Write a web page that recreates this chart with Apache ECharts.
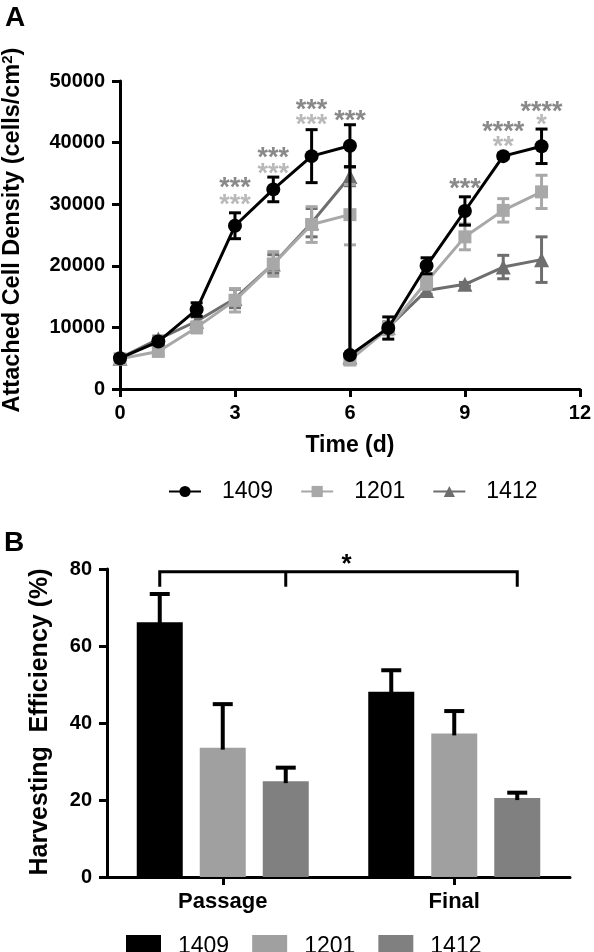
<!DOCTYPE html>
<html>
<head>
<meta charset="utf-8">
<script src="https://cdn.jsdelivr.net/npm/echarts@6/dist/echarts.min.js"></script>
<style>
html,body{margin:0;padding:0;background:#fff;}
#a{position:absolute;left:0;top:0;width:594px;height:510px;}
#b{position:absolute;left:0;top:510px;width:594px;height:442px;}
</style>
</head>
<body>
<div id="a"></div>
<div id="b"></div>
<script>
// ---------- Panel A data ----------
const days = [0, 1, 2, 3, 4, 5, 6, 6, 7, 8, 9, 10, 11];
const mean1409 = [5000, 7700, 12900, 26500, 32400, 37800, 39500, 5500, 9900, 20000, 28900, 37800, 39400];
const sd1409   = [400, 500, 1100, 2100, 2000, 4300, 3400, 300, 1800, 1300, 2300, 400, 2800];
const mean1201 = [4900, 6100, 10000, 14400, 20300, 26700, 28300, 4700, 9800, 17400, 24700, 29000, 32000];
const sd1201   = [400, 600, 900, 1900, 2000, 2900, 4900, 300, 1000, 1200, 2100, 1900, 2700];
const mean1412 = [5000, 8100, 11000, 14700, 20300, 27000, 34500, 5200, 10000, 16000, 17000, 19800, 21000];
const sd1412   = [300, 500, 700, 1500, 1500, 2300, 1500, 300, 900, 600, 300, 1900, 3700];
const strains = ['1409', '1201', '1412'];
const timeTicks = [0, 3, 6, 9, 12];
const densityTicks = [0, 10000, 20000, 30000, 40000, 50000];
// significance labels (vs 1412 = dark, vs 1201 = light)
const sigDarkX = [3, 4, 5, 6, 9, 10, 11];
const sigDarkY = [33650, 38520, 46270, 44500, 33440, 42700, 46000];
const sigDarkText = ['***', '***', '***', '***', '***', '****', '****'];
const sigLightX = [3, 4, 5, 10, 11];
const sigLightY = [30960, 35990, 43950, 40300, 43870];
const sigLightText = ['***', '***', '***', '**', '*'];

// ---------- Panel B data ----------
const groups = ['Passage', 'Final'];
const eff1409 = [66.2, 48.1];
const effSd1409 = [7.3, 5.6];
const eff1201 = [33.6, 37.3];
const effSd1201 = [11.3, 5.8];
const eff1412 = [24.9, 20.5];
const effSd1412 = [3.5, 1.4];
const effTicks = [0, 20, 40, 60, 80];
const bracketLevel = 79.3;
const bracketDrop = 75.4;
const bracketStarLevel = 81.0;
const bracketText = '*';

// ---------- styles ----------
const FONT = 'Liberation Sans, Arial, Helvetica, sans-serif';
const lineColors = {'1409': '#000000', '1201': '#a8a8a8', '1412': '#6e6e6e'};
const barColors = {'1409': '#000000', '1201': '#a0a0a0', '1412': '#808080'};
const symbols = {'1409': 'circle', '1201': 'rect', '1412': 'triangle'};
const symbolSizes = {'1409': 14, '1201': 13, '1412': 15};
const axisStyle = {lineStyle: {color: '#000', width: 3}};
const plainNum = v => String(v);

// ================= Chart A =================
const chartA = echarts.init(document.getElementById('a'), null, {renderer: 'canvas'});
const meansA = {'1409': mean1409, '1201': mean1201, '1412': mean1412};
const sdsA = {'1409': sd1409, '1201': sd1201, '1412': sd1412};
const zA = {'1409': 30, '1201': 20, '1412': 10};

function errA(name) {
  const m = meansA[name], s = sdsA[name];
  return {
    type: 'custom', name: name + ' err', z: zA[name] - 1,
    data: days.map((d, i) => [d, m[i] - s[i], m[i] + s[i]]),
    renderItem: function (params, api) {
      const x = api.value(0);
      const lo = api.coord([x, api.value(1)]);
      const hi = api.coord([x, api.value(2)]);
      const hw = 6;
      const st = {stroke: lineColors[name], lineWidth: 3};
      return {type: 'group', children: [
        {type: 'line', shape: {x1: lo[0], y1: lo[1], x2: hi[0], y2: hi[1]}, style: st},
        {type: 'line', shape: {x1: lo[0] - hw, y1: lo[1], x2: lo[0] + hw, y2: lo[1]}, style: st},
        {type: 'line', shape: {x1: hi[0] - hw, y1: hi[1], x2: hi[0] + hw, y2: hi[1]}, style: st}
      ]};
    },
    silent: true
  };
}
function lineA(name) {
  const m = meansA[name];
  return {
    type: 'line', name: name, z: zA[name],
    data: days.map((d, i) => [d, m[i]]),
    symbol: symbols[name], symbolSize: symbolSizes[name],
    lineStyle: {color: lineColors[name], width: 3},
    itemStyle: {color: lineColors[name]},
    showAllSymbol: true, animation: false
  };
}
function sigSeries(xs, ys, texts, color) {
  return {
    type: 'scatter', symbolSize: 0, z: 40, silent: true,
    data: xs.map((x, i) => ({value: [x, ys[i]], label: {formatter: texts[i]}})),
    label: {show: true, position: 'inside', offset: [0, 7], color: color,
            fontSize: 27, fontWeight: 'bold', fontFamily: FONT}
  };
}

chartA.setOption({
  animation: false,
  grid: {left: 120, right: 12, top: 81, bottom: 121},
  xAxis: {
    type: 'value', min: timeTicks[0], max: timeTicks[timeTicks.length - 1], interval: 3,
    axisLine: axisStyle, axisTick: {show: true, length: 8, lineStyle: {color: '#000', width: 3}},
    splitLine: {show: false},
    axisLabel: {color: '#000', fontSize: 20, fontWeight: 'bold', fontFamily: FONT, margin: 14, formatter: plainNum},
    name: 'Time (d)', nameLocation: 'middle', nameGap: 45,
    nameTextStyle: {color: '#000', fontSize: 23, fontWeight: 'bold', fontFamily: FONT}
  },
  yAxis: {
    type: 'value', min: densityTicks[0], max: densityTicks[densityTicks.length - 1], interval: 10000,
    axisLine: {show: true, lineStyle: {color: '#000', width: 3}},
    axisTick: {show: true, length: 8, lineStyle: {color: '#000', width: 3}},
    splitLine: {show: false},
    axisLabel: {color: '#000', fontSize: 20, fontWeight: 'bold', fontFamily: FONT, margin: 15, formatter: plainNum}
  },
  legend: {
    data: strains, left: 163, top: 475, itemWidth: 32, itemHeight: 14, itemGap: 27,
    formatter: '{t|{name}}',
    textStyle: {color: '#000', fontSize: 23, fontFamily: FONT,
      rich: {t: {fontSize: 23, fontFamily: FONT, color: '#000', padding: [0, 0, 0, 16]}}}
  },
  graphic: [
    {type: 'text', x: 5, y: 4, style: {text: 'A', font: 'bold 28px ' + FONT, fill: '#000'}},
    {type: 'text', x: 13, y: 230, rotation: Math.PI / 2,
     style: {text: 'Attached Cell Density (cells/cm{sup|2})', font: 'bold 23.5px ' + FONT, fill: '#000',
             align: 'center', verticalAlign: 'middle',
             rich: {sup: {fontSize: 15, fontWeight: 'bold', fontFamily: FONT, verticalAlign: 'top', padding: [0, 0, 10, 0]}}}}
  ],
  series: [
    errA('1412'), lineA('1412'),
    errA('1201'), lineA('1201'),
    errA('1409'), lineA('1409'),
    sigSeries(sigDarkX, sigDarkY, sigDarkText, '#6b6b6b'),
    sigSeries(sigLightX, sigLightY, sigLightText, '#a8a8a8')
  ]
});

// ================= Chart B =================
const chartB = echarts.init(document.getElementById('b'), null, {renderer: 'canvas'});
const BAR_W = 46, BAR_GAP = 17;
const effs = {'1409': eff1409, '1201': eff1201, '1412': eff1412};
const effSds = {'1409': effSd1409, '1201': effSd1201, '1412': effSd1412};

function barB(name) {
  return {type: 'bar', name: name, data: effs[name], barWidth: BAR_W, barGap: (BAR_GAP / BAR_W * 100) + '%',
          itemStyle: {color: barColors[name]}, z: 2};
}
function errB(name, idx) {
  return {
    type: 'custom', name: name + ' err', z: 5, silent: true,
    data: groups.map((g, i) => [i, effs[name][i] + effSds[name][i], effs[name][i]]),
    renderItem: function (params, api) {
      const ci = api.value(0);
      const c = api.coord([ci, api.value(2)]);
      const h = api.coord([ci, api.value(1)]);
      const x = c[0] + (idx - 1) * (BAR_W + BAR_GAP);
      const st = {stroke: '#000', lineWidth: 4};
      return {type: 'group', children: [
        {type: 'line', shape: {x1: x, y1: c[1] + 2, x2: x, y2: h[1]}, style: st},
        {type: 'line', shape: {x1: x - 10, y1: h[1], x2: x + 10, y2: h[1]}, style: st}
      ]};
    }
  };
}

chartB.setOption({
  animation: false,
  grid: {left: 107, right: 24, top: 59, bottom: 75},
  xAxis: {
    type: 'category', data: groups,
    axisLine: axisStyle,
    axisTick: {show: true, alignWithLabel: true, length: 8, lineStyle: {color: '#000', width: 3}},
    axisLabel: {color: '#000', fontSize: 22, fontWeight: 'bold', fontFamily: FONT, margin: 14}
  },
  yAxis: {
    type: 'value', min: effTicks[0], max: effTicks[effTicks.length - 1], interval: 20,
    axisLine: {show: true, lineStyle: {color: '#000', width: 3}},
    axisTick: {show: true, length: 8, lineStyle: {color: '#000', width: 3}},
    splitLine: {show: false},
    axisLabel: {color: '#000', fontSize: 20, fontWeight: 'bold', fontFamily: FONT, margin: 15, formatter: plainNum}
  },
  legend: {
    data: strains.map(n => ({name: n, icon: 'rect', itemStyle: {color: barColors[n]}})),
    left: 121, top: 420, itemWidth: 35, itemHeight: 24, itemGap: 23,
    formatter: '{t|{name}}',
    textStyle: {color: '#000', fontSize: 23, fontFamily: FONT,
      rich: {t: {fontSize: 23, fontFamily: FONT, color: '#000', padding: [0, 0, 0, 12]}}}
  },
  series: [
    barB('1409'), barB('1201'), barB('1412'),
    errB('1409', 0), errB('1201', 1), errB('1412', 2)
  ]
});

// significance bracket drawn from axis conversions
(function () {
  const step = BAR_W + BAR_GAP;
  const p0 = chartB.convertToPixel({xAxisIndex: 0}, 0);
  const p1 = chartB.convertToPixel({xAxisIndex: 0}, 1);
  const yL = chartB.convertToPixel({yAxisIndex: 0}, bracketLevel);
  const yD = chartB.convertToPixel({yAxisIndex: 0}, bracketDrop);
  const yS = chartB.convertToPixel({yAxisIndex: 0}, bracketStarLevel);
  const xa = p0 - step, xm = p0 + step, xb = p1 + step;
  const st = {stroke: '#000', lineWidth: 3};
  chartB.setOption({graphic: [
    {type: 'text', x: 4, y: 19, style: {text: 'B', font: 'bold 28px ' + FONT, fill: '#000'}},
    {type: 'text', x: 40, y: 212, rotation: Math.PI / 2,
     style: {text: 'Harvesting  Efficiency (%)', font: 'bold 25px ' + FONT, fill: '#000',
             align: 'center', verticalAlign: 'middle'}},
    {type: 'polyline', shape: {points: [[xa, yD], [xa, yL], [xb, yL], [xb, yD]]}, style: {stroke: '#000', lineWidth: 3, fill: null}},
    {type: 'line', shape: {x1: xm, y1: yL, x2: xm, y2: yD}, style: st},
    {type: 'text', x: (xa + xb) / 2 + 8, y: yS, style: {text: bracketText, font: 'bold 26px ' + FONT, fill: '#000',
      align: 'center', verticalAlign: 'middle'}}
  ]});
})();
</script>
</body>
</html>
